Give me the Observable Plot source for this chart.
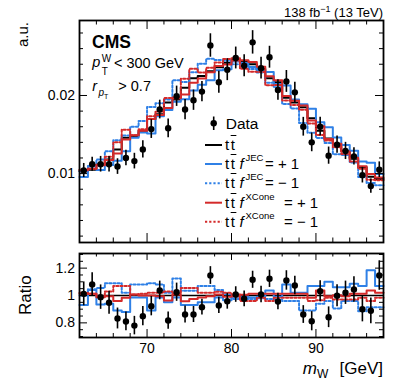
<!DOCTYPE html>
<html><head><meta charset="utf-8">
<script src="https://cdn.jsdelivr.net/npm/d3@7"></script>
<script src="https://cdn.jsdelivr.net/npm/@observablehq/plot@0.6"></script>
<style>
body{margin:0;background:#fff;}
#fig{position:relative;width:407px;height:383px;font-family:"Liberation Sans",Arial,sans-serif;color:#000;overflow:hidden;background:#fff}
#fig svg{position:absolute;left:0;}
.t{position:absolute;white-space:nowrap;line-height:1;}
.ob{text-decoration:overline;text-decoration-thickness:1px;}
</style></head><body><div id="fig"></div>
<script>
// ---- data ----
const binEdges = [62,63,64,65,66,67,68,69,70,71,72,73,74,75,76,77,78,79,80,81,82,83,84,85,86,87,88,89,90,91,92,93,94,95,96,97,98];
const dataVal = [0.0104,0.0112,0.0112,0.0112,0.0109,0.0120,0.0116,0.0131,0.0157,0.0182,0.0158,0.0199,0.0182,0.0194,0.0205,0.0264,0.0217,0.0233,0.0248,0.0238,0.0268,0.0235,0.0249,0.0207,0.0218,0.0204,0.0160,0.0140,0.0160,0.0123,0.0137,0.0129,0.0122,0.0098,0.0084,0.0105];
const dataErr = [0.0009,0.0009,0.0010,0.0010,0.0010,0.0010,0.0010,0.0011,0.0012,0.0012,0.0012,0.0013,0.0013,0.0013,0.0013,0.0015,0.0014,0.0014,0.0014,0.0014,0.0015,0.0014,0.0014,0.0013,0.0014,0.0013,0.0012,0.0012,0.0012,0.0011,0.0011,0.0011,0.0011,0.0010,0.0009,0.0010];
const dataRatio = [1.012,1.08,0.988,0.947,0.832,0.81,0.78,0.849,0.922,1.037,0.817,1.024,0.861,0.861,0.915,1.146,0.927,0.958,1.007,0.976,1.115,1.007,1.122,0.956,1.11,1.073,0.861,0.812,1.031,0.841,0.998,1.02,1.044,0.9,0.888,1.146];
const ttNominal = [0.0103,0.0105,0.0112,0.0118,0.0131,0.0146,0.0148,0.0155,0.0170,0.0176,0.0191,0.0195,0.0210,0.0222,0.0225,0.0231,0.0236,0.0242,0.0246,0.0244,0.0240,0.0234,0.0222,0.0217,0.0197,0.0191,0.0185,0.0171,0.0155,0.0145,0.0138,0.0129,0.0119,0.0108,0.0096,0.0093];
const jecUpRatio = [0.93,1.04,0.935,0.94,0.89,0.88,0.985,0.985,0.89,0.985,0.95,0.985,0.93,0.93,0.95,0.95,0.985,0.965,0.99,0.99,0.985,0.99,1.037,0.99,1.08,1.02,1.02,1.07,1.07,1.10,1.06,1.06,1.085,1.07,1.185,1.07];
const jecDnRatio = [1.00,1.045,1.055,1.09,1.09,1.02,1.08,1.08,1.09,1.08,1.02,1.125,1.035,1.035,1.07,1.07,1.04,1.01,0.975,0.975,0.975,0.98,0.975,0.97,0.96,0.96,0.89,0.89,0.94,0.96,0.905,0.96,0.96,0.885,0.915,0.915];
const xcUpRatio = [1.012,1.012,0.988,0.995,0.96,0.983,1.007,1.0,1.0,0.995,0.963,1.007,0.958,0.975,0.985,0.995,1.007,0.99,0.995,1.005,1.012,1.012,1.012,1.012,1.012,1.012,1.012,0.983,1.037,0.995,1.002,0.995,1.012,1.012,1.037,1.02];
const xcDnRatio = [1.02,1.012,0.995,1.03,1.07,1.07,1.007,1.012,1.02,1.02,1.03,1.012,1.055,1.055,1.02,1.02,1.027,1.02,1.007,0.96,0.96,0.983,0.96,0.983,0.983,0.983,0.983,0.96,0.965,0.983,0.97,0.97,0.97,0.983,0.96,0.983];
const xMajorTicks = [70,80,90];
const xMinorTicks = [64,66,68,72,74,76,78,82,84,86,88,92,94,96];
const yMajorTop = [0.01,0.02];
const yMinorTop = [0.002,0.004,0.006,0.008,0.012,0.014,0.016,0.018,0.022,0.024,0.026,0.028];
const yMajorRatio = [0.8,1,1.2];
const yMinorRatio = [0.7,0.75,0.85,0.9,0.95,1.05,1.1,1.15,1.25,1.3];

// ---- style ----
const FONT = '"Liberation Sans", Arial, sans-serif';
const BLUE = "#2f80e6", RED = "#d42a2a";
const W = 407, ML = 79, MR = 24;
const plotW = W - ML - MR;

const centers = binEdges.slice(0, -1).map((e, i) => (e + binEdges[i + 1]) / 2);
const stepRows = vals => binEdges.map((e, i) => ({x: e, y: vals[Math.min(i, vals.length - 1)]}));
const times = (a, r) => a.map((v, i) => v * r[i]);

const series = [
  {vals: ttNominal, ratio: ttNominal.map(() => 1), stroke: "black", dash: null},
  {vals: times(ttNominal, jecUpRatio), ratio: jecUpRatio, stroke: BLUE, dash: null},
  {vals: times(ttNominal, jecDnRatio), ratio: jecDnRatio, stroke: BLUE, dash: "2.2,2"},
  {vals: times(ttNominal, xcUpRatio), ratio: xcUpRatio, stroke: RED, dash: null},
  {vals: times(ttNominal, xcDnRatio), ratio: xcDnRatio, stroke: RED, dash: "2.2,2"}
];

function ticks(plotH, L) {
  const tk = {stroke: "black", strokeWidth: 1};
  return [
    Plot.tickX(xMajorTicks, {x: d => d, insetTop: plotH - L.xb, ...tk}),
    Plot.tickX(xMinorTicks, {x: d => d, insetTop: plotH - L.xb / 2, ...tk}),
    Plot.tickX(xMajorTicks, {x: d => d, insetBottom: plotH - L.xt, ...tk}),
    Plot.tickX(xMinorTicks, {x: d => d, insetBottom: plotH - L.xt / 2, ...tk}),
    Plot.tickY(L.yMaj, {y: d => d, insetRight: plotW - L.y, ...tk}),
    Plot.tickY(L.yMin, {y: d => d, insetRight: plotW - L.y / 2, ...tk}),
    Plot.tickY(L.yMaj, {y: d => d, insetLeft: plotW - L.y, ...tk}),
    Plot.tickY(L.yMin, {y: d => d, insetLeft: plotW - L.y / 2, ...tk})
  ];
}

const dataRows = centers.map((x, i) => ({x, y: dataVal[i], e: dataErr[i], r: dataRatio[i], re: dataErr[i] / ttNominal[i]}));

const topH = 245, topMT = 20, topMB = 3;
const topPlot = Plot.plot({
  width: W, height: topH, marginLeft: ML, marginRight: MR, marginTop: topMT, marginBottom: topMB,
  x: {domain: [62, 98], axis: null},
  y: {domain: [0.00118, 0.0296]},
  style: {fontFamily: FONT, fontSize: "14px", color: "black", background: "transparent", overflow: "visible"},
  marks: [
    ...series.map(s => Plot.line(stepRows(s.vals), {x: "x", y: "y", curve: "step-after", stroke: s.stroke, strokeWidth: 2, strokeDasharray: s.dash})),
    Plot.ruleX(dataRows, {x: "x", y1: d => d.y - d.e, y2: d => d.y + d.e, stroke: "black", strokeWidth: 1.6}),
    Plot.dot(dataRows, {x: "x", y: "y", r: 3.2, fill: "black", stroke: "none"}),
    ...ticks(topH - topMT - topMB, {xb: 9, xt: 9, y: 8, yMaj: yMajorTop, yMin: yMinorTop}),
    Plot.axisY({ticks: yMajorTop, tickFormat: d => d.toFixed(2), tickSize: 0, tickPadding: 4.5, fontSize: 14, label: null}),
    Plot.frame({stroke: "black", strokeWidth: 1.8})
  ]
});

const rH = 138, rMT = 8, rMB = 46;
const ratioPlot = Plot.plot({
  width: W, height: rH, marginLeft: ML, marginRight: MR, marginTop: rMT, marginBottom: rMB,
  x: {domain: [62, 98]},
  y: {domain: [0.693, 1.307]},
  style: {fontFamily: FONT, fontSize: "14px", color: "black", background: "transparent", overflow: "visible"},
  marks: [
    Plot.ruleY([1], {stroke: "black", strokeWidth: 1.6}),
    ...series.slice(1).map(s => Plot.line(stepRows(s.ratio), {x: "x", y: "y", curve: "step-after", stroke: s.stroke, strokeWidth: 2, strokeDasharray: s.dash})),
    Plot.ruleX(dataRows, {x: "x", y1: d => d.r - d.re, y2: d => d.r + d.re, stroke: "black", strokeWidth: 1.6}),
    Plot.dot(dataRows, {x: "x", y: "r", r: 3.2, fill: "black", stroke: "none"}),
    ...ticks(rH - rMT - rMB, {xb: 8, xt: 7, y: 8, yMaj: yMajorRatio, yMin: yMinorRatio}),
    Plot.axisY({ticks: yMajorRatio, tickFormat: d => String(d), tickSize: 0, tickPadding: 4.5, fontSize: 14, label: null}),
    Plot.axisX({ticks: xMajorTicks, tickFormat: d => String(d), tickSize: 0, tickPadding: 6, fontSize: 14, label: null}),
    Plot.frame({stroke: "black", strokeWidth: 1.8})
  ]
});

const fig = document.getElementById("fig");
topPlot.style.top = "0px";
ratioPlot.style.top = "245px";
fig.appendChild(topPlot);
fig.appendChild(ratioPlot);

// ---- legend samples ----
const leg = d3.select(fig).append("svg").attr("width", W).attr("height", 383).style("top", "0px").style("pointer-events", "none");
const legRows = [145, 164, 183.3, 202.7, 221.7];
series.forEach((s, i) => {
  leg.append("line").attr("x1", 205).attr("x2", 222).attr("y1", legRows[i]).attr("y2", legRows[i])
    .attr("stroke", s.stroke).attr("stroke-width", 2).attr("stroke-dasharray", s.dash);
});
leg.append("line").attr("x1", 213.7).attr("x2", 213.7).attr("y1", 116.5).attr("y2", 130).attr("stroke", "black").attr("stroke-width", 1.6);
leg.append("circle").attr("cx", 213.7).attr("cy", 123.3).attr("r", 3.2).attr("fill", "black");

// ---- texts ----
function T(html, x, base, size, opts = {}) {
  const d = document.createElement("div");
  d.className = "t";
  d.innerHTML = html;
  d.style.fontSize = size + "px";
  d.style.top = (base - 0.8465 * size) + "px";
  if (opts.anchor === "end") d.style.right = (W - x) + "px"; else d.style.left = x + "px";
  if (opts.italic) d.style.fontStyle = "italic";
  if (opts.bold) d.style.fontWeight = "bold";
  if (opts.css) d.style.cssText += opts.css;
  fig.appendChild(d);
  return d;
}
// lumi
T("138 fb<sup style='font-size:9px;vertical-align:5px'>−1</sup> (13 TeV)", 383, 16, 13, {anchor: "end"});
// axis titles
T("a.u.", 15.3, 47, 15, {css: "transform-origin:0 0;transform:rotate(-90deg);top:47px;"});
T("Ratio", 17, 315, 17, {css: "transform-origin:0 0;transform:rotate(-90deg);top:315px;"});
T("[GeV]", 383, 374, 17, {anchor: "end"});
T("m", 302.7, 374, 17, {italic: true});
T("W", 317, 378.5, 12);
// CMS labels
T("CMS", 92, 49.3, 17.5, {bold: true});
T("p", 92.3, 67.5, 14.5, {italic: true});
T("W", 101.7, 62.5, 10);
T("T", 101.7, 75, 10);
T("&lt; 300 GeV", 114, 68.3, 14.5);
T("r", 92.3, 91.7, 14.5, {italic: true});
T("p", 98.5, 96, 10, {italic: true});
T("T", 104, 99, 7);
T("&gt; 0.7", 118.3, 91.7, 14.5);
// legend texts
T("Data", 225.7, 128.7, 15.5);
const legText = [
  {sup: null}, {sup: "JEC", rest: "= + 1", rx: 265}, {sup: "JEC", rest: "= − 1", rx: 265},
  {sup: "XCone", rest: "= + 1", rx: 284}, {sup: "XCone", rest: "= − 1", rx: 284}
];
legText.forEach((l, i) => {
  const b = legRows[i] + 4.5;
  T("t<span class='ob'>t</span>", 225, b, 15, {css: "letter-spacing:1.5px;"});
  if (l.sup) {
    T("f", 239.5, b, 15, {italic: true});
    T(l.sup, 245.5, b - 7.5, 9.5);
    T(l.rest, l.rx, b, 15);
  }
});
</script></body></html>
